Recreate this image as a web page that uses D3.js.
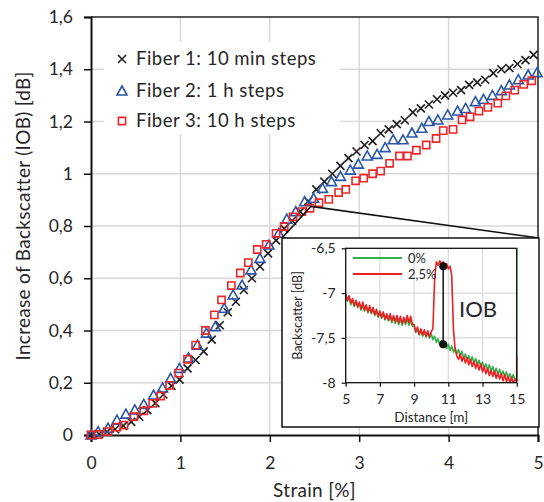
<!DOCTYPE html>
<html><head><meta charset="utf-8">
<script src="https://cdn.jsdelivr.net/npm/d3@7"></script>
<style>
body{margin:0;background:#fff}
svg{display:block}
text{font-family:Lato,"Open Sans",sans-serif;fill:#262626}
</style>
</head><body><svg id="c" width="544" height="502"></svg>
<script>
// ---------- DATA ----------
const seriesNames = ["Fiber 1: 10 min steps", "Fiber 2: 1 h steps", "Fiber 3: 10 h steps"];
const strainTicks = [0, 1, 2, 3, 4, 5];
const iobTicks = [0, 0.2, 0.4, 0.6, 0.8, 1, 1.2, 1.4, 1.6];

const fiber1Strain = [0,0.09,0.18,0.27,0.36,0.45,0.54,0.63,0.72,0.81,0.90,0.99,1.08,1.17,1.26,1.35,1.44,1.53,1.62,1.71,1.80,1.89,1.98,2.07,2.16,2.25,2.34,2.43,2.52,2.61,2.70,2.79,2.88,2.97,3.06,3.15,3.24,3.33,3.42,3.51,3.60,3.69,3.78,3.87,3.96,4.05,4.14,4.23,4.32,4.41,4.50,4.59,4.68,4.77,4.86,4.95];
const fiber1IOB = [0,0.004,0.012,0.022,0.035,0.05,0.07,0.095,0.122,0.155,0.188,0.212,0.255,0.287,0.32,0.365,0.42,0.47,0.51,0.555,0.60,0.645,0.695,0.745,0.79,0.82,0.855,0.895,0.94,0.97,1.0,1.03,1.06,1.085,1.11,1.125,1.155,1.17,1.19,1.205,1.235,1.25,1.265,1.285,1.30,1.31,1.32,1.34,1.35,1.36,1.385,1.40,1.405,1.42,1.435,1.455];

const fiber2Strain = [0,0.08,0.19,0.29,0.39,0.49,0.59,0.70,0.80,0.89,0.99,1.09,1.19,1.29,1.39,1.49,1.59,1.69,1.79,1.89,1.99,2.10,2.19,2.29,2.39,2.49,2.59,2.69,2.79,2.90,2.99,3.09,3.20,3.29,3.38,3.49,3.59,3.70,3.78,3.88,3.99,4.10,4.19,4.30,4.39,4.49,4.59,4.68,4.78,4.89,4.99];
const fiber2IOB = [0,0.013,0.026,0.057,0.08,0.096,0.117,0.153,0.18,0.217,0.255,0.295,0.344,0.39,0.415,0.485,0.536,0.574,0.632,0.676,0.727,0.772,0.826,0.855,0.893,0.906,0.944,0.97,0.99,1.014,1.037,1.068,1.074,1.10,1.13,1.13,1.156,1.174,1.20,1.206,1.225,1.24,1.25,1.276,1.285,1.30,1.318,1.34,1.36,1.378,1.387];

const fiber3Strain = [0,0.08,0.19,0.29,0.37,0.48,0.59,0.69,0.78,0.88,0.98,1.08,1.17,1.28,1.38,1.46,1.57,1.67,1.76,1.86,1.96,2.07,2.16,2.26,2.36,2.45,2.55,2.66,2.77,2.85,2.96,3.05,3.15,3.24,3.34,3.45,3.54,3.64,3.75,3.86,3.94,4.05,4.15,4.24,4.34,4.44,4.55,4.64,4.74,4.84,4.93];
const fiber3IOB = [0,0.002,0.013,0.03,0.038,0.07,0.092,0.121,0.149,0.19,0.237,0.29,0.344,0.40,0.46,0.517,0.572,0.62,0.66,0.71,0.73,0.772,0.798,0.835,0.855,0.868,0.889,0.902,0.928,0.94,0.973,0.983,1.0,1.01,1.04,1.068,1.068,1.09,1.11,1.135,1.165,1.17,1.206,1.218,1.24,1.254,1.27,1.298,1.32,1.342,1.356];

// zoom origin (strain %, IOB dB)
const zoomStrain = 2.46, zoomIOB = 0.875;

// inset data
const insetNames = ["0%", "2,5%"];
const distTicks = [5, 7, 9, 11, 13, 15];
const bsTicks = [-6.5, -7, -7.5, -8];
const distance = [5.0,5.1,5.2,5.3,5.4,5.5,5.6,5.7,5.8,5.9,6.0,6.1,6.2,6.3,6.4,6.5,6.6,6.7,6.8,6.9,7.0,7.1,7.2,7.3,7.4,7.5,7.6,7.7,7.8,7.9,8.0,8.1,8.2,8.3,8.4,8.5,8.6,8.7,8.8,8.9,9.0,9.1,9.2,9.3,9.4,9.5,9.6,9.7,9.8,9.9,10.0,10.1,10.2,10.3,10.4,10.5,10.6,10.7,10.8,10.9,11.0,11.1,11.2,11.3,11.4,11.5,11.6,11.7,11.8,11.9,12.0,12.1,12.2,12.3,12.4,12.5,12.6,12.7,12.8,12.9,13.0,13.1,13.2,13.3,13.4,13.5,13.6,13.7,13.8,13.9,14.0,14.1,14.2,14.3,14.4,14.5,14.6,14.7,14.8,14.9,15.0,15.01];
const bs0 = [-7.02,-7.09,-7.05,-7.13,-7.08,-7.15,-7.10,-7.16,-7.12,-7.19,-7.13,-7.20,-7.15,-7.22,-7.17,-7.23,-7.18,-7.25,-7.20,-7.27,-7.22,-7.28,-7.23,-7.30,-7.25,-7.31,-7.26,-7.33,-7.27,-7.34,-7.28,-7.35,-7.29,-7.36,-7.30,-7.35,-7.29,-7.36,-7.30,-7.37,-7.37,-7.44,-7.40,-7.47,-7.42,-7.48,-7.43,-7.49,-7.44,-7.50,-7.45,-7.52,-7.48,-7.55,-7.51,-7.58,-7.53,-7.60,-7.55,-7.62,-7.57,-7.64,-7.59,-7.66,-7.61,-7.68,-7.63,-7.70,-7.65,-7.73,-7.68,-7.75,-7.70,-7.77,-7.71,-7.78,-7.73,-7.80,-7.75,-7.82,-7.77,-7.84,-7.79,-7.86,-7.80,-7.87,-7.82,-7.89,-7.84,-7.91,-7.85,-7.92,-7.87,-7.93,-7.88,-7.95,-7.90,-7.96,-7.91,-7.97,-7.96,-6.2];
const bs25 = [-7.01,-7.08,-7.03,-7.11,-7.06,-7.14,-7.08,-7.15,-7.10,-7.18,-7.10,-7.19,-7.13,-7.21,-7.14,-7.22,-7.16,-7.24,-7.18,-7.26,-7.20,-7.27,-7.21,-7.29,-7.23,-7.30,-7.23,-7.31,-7.25,-7.32,-7.25,-7.33,-7.26,-7.34,-7.27,-7.33,-7.25,-7.33,-7.26,-7.35,-7.35,-7.43,-7.38,-7.46,-7.40,-7.47,-7.41,-7.48,-7.42,-7.49,-7.43,-7.40,-6.85,-6.65,-6.69,-6.64,-6.68,-6.65,-6.71,-6.67,-6.73,-6.70,-6.80,-7.40,-7.63,-7.70,-7.74,-7.68,-7.76,-7.71,-7.78,-7.72,-7.80,-7.74,-7.82,-7.76,-7.84,-7.78,-7.86,-7.79,-7.88,-7.82,-7.90,-7.84,-7.92,-7.86,-7.93,-7.87,-7.95,-7.89,-7.96,-7.90,-7.98,-7.91,-7.99,-7.93,-8.0,-7.94,-8.01,-7.96,-7.99,-7.70];
const iobDistance = 10.7, iobTop = -6.7, iobBottom = -7.57;

// ---------- CHART ----------
const svg = d3.select("#c");
const fmt = v => String(+v.toFixed(1)).replace(".", ",");

const x = d3.scaleLinear().domain([0, 5]).range([91, 538]);
const y = d3.scaleLinear().domain([0, 1.6]).range([435, 17]);

const gridColor = "#d9d9d9";
// gridlines
svg.append("g").selectAll("line").data(strainTicks.slice(1, -1)).join("line")
  .attr("x1", d => x(d)).attr("x2", d => x(d)).attr("y1", y(1.6)).attr("y2", y(0))
  .attr("stroke", gridColor).attr("stroke-width", 1.5);
svg.append("g").selectAll("line").data(iobTicks.slice(1, -1)).join("line")
  .attr("x1", x(0)).attr("x2", x(5)).attr("y1", d => y(d)).attr("y2", d => y(d))
  .attr("stroke", gridColor).attr("stroke-width", 1.5);

// frame top/right
svg.append("path")
  .attr("d", `M${x(0)},${y(1.6)}H${x(5)}V${y(0)}`)
  .attr("fill", "none").attr("stroke", "#222").attr("stroke-width", 1.5);

// axes
const yAxis = svg.append("g").attr("transform", `translate(${x(0)},0)`)
  .call(d3.axisLeft(y).tickValues(iobTicks).tickFormat(fmt).tickSize(7).tickPadding(11));
const xAxis = svg.append("g").attr("transform", `translate(0,${y(0)})`)
  .call(d3.axisBottom(x).tickValues(strainTicks).tickFormat(fmt).tickSize(7).tickPadding(15));
[yAxis, xAxis].forEach(a => {
  a.select(".domain").attr("stroke", "#111").attr("stroke-width", 2);
  a.selectAll(".tick line").attr("stroke", "#111").attr("stroke-width", 1.5);
  a.selectAll(".tick text").attr("font-size", 17.5).attr("font-family", "Lato, sans-serif").attr("fill", "#262626");
});

// axis titles
svg.append("text").attr("transform", `translate(30,216) rotate(-90)`)
  .attr("text-anchor", "middle").attr("font-size", 19).attr("letter-spacing", 0.3)
  .text("Increase of Backscatter (IOB) [dB]");
svg.append("text").attr("x", (x(0) + x(5)) / 2).attr("y", 497)
  .attr("text-anchor", "middle").attr("font-size", 19).attr("letter-spacing", 0.3).text("Strain [%]");

// legend background
svg.append("rect").attr("x", 104).attr("y", 42).attr("width", 236).attr("height", 92).attr("fill", "#fff");

// marker shapes
const colors = ["#1e1e1e", "#2a56a8", "#e8282a"];
const shapes = [
  "M-4,-4L4,4M-4,4L4,-4",
  "M0,-5L5,4L-5,4Z",
  "M-3.6,-3.6H3.6V3.6H-3.6Z"
];
const series = [
  {s: fiber1Strain, v: fiber1IOB},
  {s: fiber2Strain, v: fiber2IOB},
  {s: fiber3Strain, v: fiber3IOB}
];
series.forEach((ser, i) => {
  svg.append("g").selectAll("path").data(ser.s.map((s, k) => [s, ser.v[k]])).join("path")
    .attr("transform", d => `translate(${x(d[0])},${y(d[1])})`)
    .attr("d", shapes[i]).attr("fill", "none")
    .attr("stroke", colors[i]).attr("stroke-width", 1.6);
});

// legend
const legY = [59, 91, 121];
seriesNames.forEach((n, i) => {
  svg.append("path").attr("transform", `translate(122,${legY[i]})`).attr("d", shapes[i])
    .attr("fill", "none").attr("stroke", colors[i]).attr("stroke-width", 1.6);
  svg.append("text").attr("x", 136).attr("y", legY[i] + 6).attr("font-size", 18.5)
    .attr("letter-spacing", 0.5).text(n);
});

// ---------- INSET ----------
const box = {x: 282, y: 238, w: 257, h: 189};
// zoom lines
svg.append("path")
  .attr("d", `M${box.x},${box.y}L${x(zoomStrain)},${y(zoomIOB)}L${box.x + box.w},${box.y}`)
  .attr("fill", "none").attr("stroke", "#111").attr("stroke-width", 1.5);
svg.append("rect").attr("x", box.x).attr("y", box.y).attr("width", box.w).attr("height", box.h)
  .attr("fill", "#fff").attr("stroke", "#111").attr("stroke-width", 1.5);

const ix = d3.scaleLinear().domain([5, 15]).range([345.7, 516.7]);
const iy = d3.scaleLinear().domain([-8, -6.5]).range([382.7, 248.3]);

svg.append("defs").append("clipPath").attr("id", "ic").append("rect")
  .attr("x", ix(5)).attr("y", iy(-6.5)).attr("width", ix(15) - ix(5) + 1).attr("height", iy(-8) - iy(-6.5));

svg.append("g").selectAll("line").data(distTicks.slice(1, -1)).join("line")
  .attr("x1", d => ix(d)).attr("x2", d => ix(d)).attr("y1", iy(-6.5)).attr("y2", iy(-8))
  .attr("stroke", gridColor).attr("stroke-width", 1.2);
svg.append("g").selectAll("line").data(bsTicks.slice(1, -1)).join("line")
  .attr("x1", ix(5)).attr("x2", ix(15)).attr("y1", d => iy(d)).attr("y2", d => iy(d))
  .attr("stroke", gridColor).attr("stroke-width", 1.2);

const traceColors = ["#33b04a", "#ec2020"];
const line = d3.line().x(d => ix(d[0])).y(d => iy(d[1]));
[bs0, bs25].forEach((vals, i) => {
  svg.append("path").attr("clip-path", "url(#ic)")
    .attr("d", line(distance.map((d, k) => [d, vals[k]])))
    .attr("fill", "none").attr("stroke", traceColors[i]).attr("stroke-width", 1.6)
    .attr("stroke-linejoin", "round");
});

// inset frame
svg.append("rect").attr("x", ix(5)).attr("y", iy(-6.5)).attr("width", ix(15) - ix(5)).attr("height", iy(-8) - iy(-6.5))
  .attr("fill", "none").attr("stroke", "#111").attr("stroke-width", 1.3);

const iyAxis = svg.append("g").attr("transform", `translate(${ix(5)},0)`)
  .call(d3.axisLeft(iy).tickValues(bsTicks).tickFormat(fmt).tickSize(4).tickPadding(6));
const ixAxis = svg.append("g").attr("transform", `translate(0,${iy(-8)})`)
  .call(d3.axisBottom(ix).tickValues(distTicks).tickFormat(d3.format("d")).tickSize(4).tickPadding(7));
[iyAxis, ixAxis].forEach(a => {
  a.select(".domain").remove();
  a.selectAll(".tick line").attr("stroke", "#111").attr("stroke-width", 1.2);
  a.selectAll(".tick text").attr("font-size", 14).attr("font-family", "Lato, sans-serif").attr("fill", "#262626");
});

svg.append("text").attr("transform", `translate(302,${(iy(-6.5) + iy(-8)) / 2}) rotate(-90)`)
  .attr("text-anchor", "middle").attr("font-size", 12.5).text("Backscatter [dB]");
svg.append("text").attr("x", (ix(5) + ix(15)) / 2).attr("y", 422)
  .attr("text-anchor", "middle").attr("font-size", 13.5).text("Distance [m]");

// inset legend
const ilY = [258, 274];
insetNames.forEach((n, i) => {
  svg.append("line").attr("x1", 353).attr("x2", 402).attr("y1", ilY[i]).attr("y2", ilY[i])
    .attr("stroke", traceColors[i]).attr("stroke-width", 2);
  svg.append("text").attr("x", 408).attr("y", ilY[i] + 4.5).attr("font-size", 13).text(n);
});

// IOB marker
svg.append("line").attr("x1", ix(iobDistance)).attr("x2", ix(iobDistance))
  .attr("y1", iy(iobTop)).attr("y2", iy(iobBottom)).attr("stroke", "#111").attr("stroke-width", 1.5);
svg.append("g").selectAll("circle").data([iobTop, iobBottom]).join("circle")
  .attr("cx", ix(iobDistance)).attr("cy", d => iy(d)).attr("r", 4).attr("fill", "#111");
svg.append("text").attr("x", 459).attr("y", 317).attr("font-size", 22).text("IOB");
</script></body></html>
